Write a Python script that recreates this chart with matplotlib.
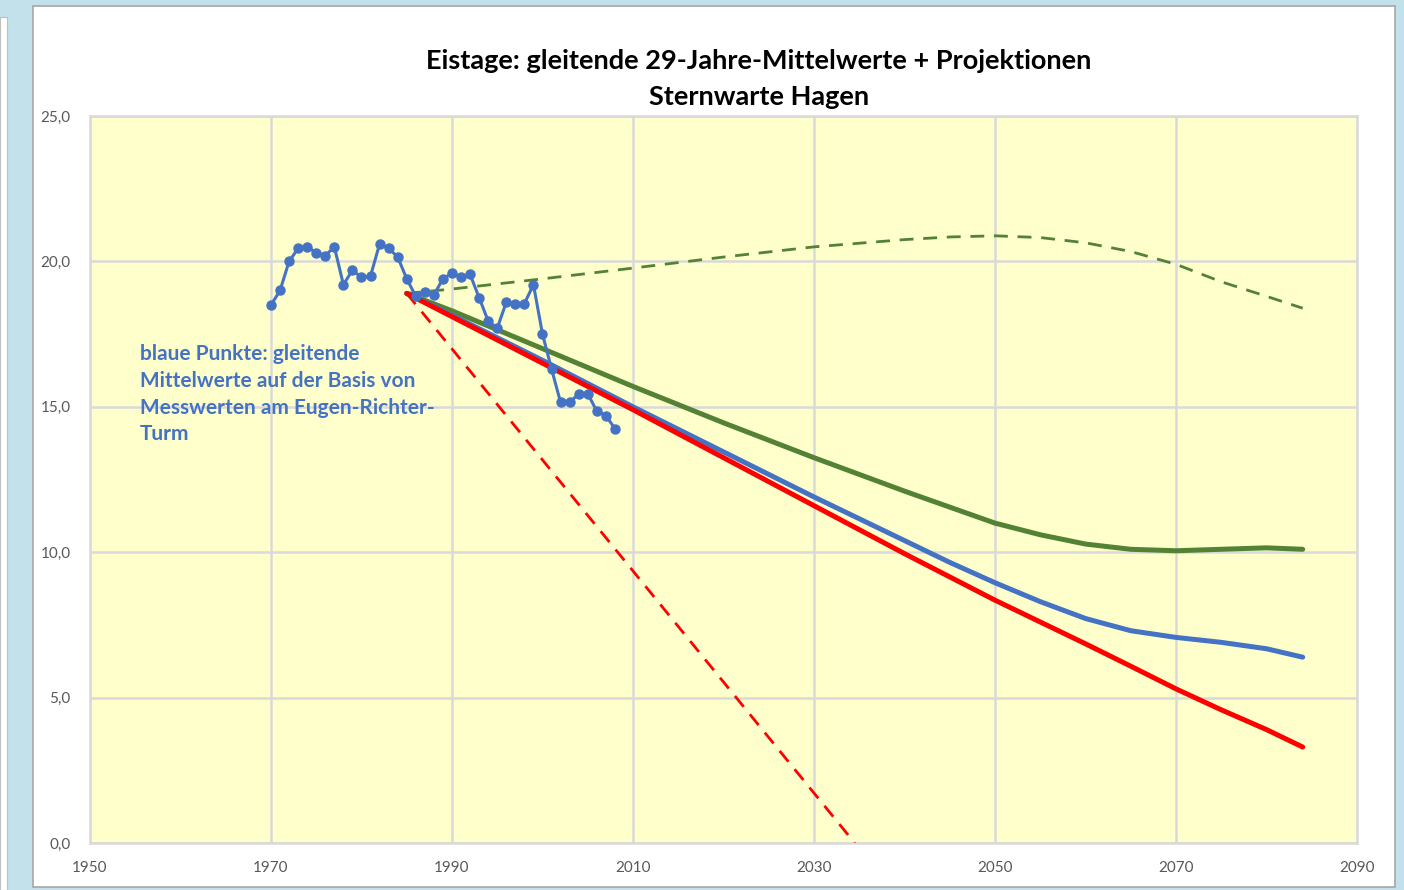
import matplotlib.pyplot as plt
from matplotlib.patches import Rectangle

# Gleitende 29-Jahre-Mittelwerte (blaue Punkte)
years_obs = list(range(1970, 2009))
eistage_obs = [18.5, 19.0, 20.0, 20.45, 20.5, 20.3, 20.2, 20.5, 19.2, 19.7,
               19.45, 19.5, 20.6, 20.45, 20.15, 19.4, 18.8, 18.95, 18.85, 19.4,
               19.6, 19.45, 19.55, 18.75, 17.95, 17.7, 18.6, 18.55, 18.55, 19.2,
               17.5, 16.3, 15.15, 15.15, 15.45, 15.45, 14.85, 14.7, 14.25]

# Projektionen
years_proj = [1985, 1990, 2000, 2010, 2020, 2030, 2040, 2045, 2050, 2055, 2060,
              2065, 2070, 2075, 2080, 2084]
proj_red = [18.9, 18.1, 16.5, 14.9, 13.25, 11.6, 9.95, 9.15, 8.35, 7.6, 6.85,
            6.08, 5.3, 4.58, 3.9, 3.3]
proj_blue = [18.9, 18.15, 16.6, 15.0, 13.45, 11.9, 10.4, 9.65, 8.95, 8.3, 7.72,
             7.3, 7.07, 6.9, 6.68, 6.39]
proj_green = [18.9, 18.3, 17.0, 15.7, 14.45, 13.25, 12.1, 11.55, 11.0, 10.6, 10.28,
              10.1, 10.05, 10.1, 10.15, 10.1]
proj_green_dash = [18.9, 19.05, 19.4, 19.77, 20.15, 20.5, 20.75, 20.84, 20.88, 20.82, 20.64,
                   20.34, 19.9, 19.3, 18.8, 18.39]
years_red_dash = [1985, 2034.5]
proj_red_dash = [18.9, 0.0]

plt.rcParams['font.family'] = ['Lato', 'DejaVu Sans']

fig = plt.figure(figsize=(14.04, 8.9), dpi=100)
fig.patch.set_facecolor('#c3e1ea')

# weisser Diagrammbereich
W, H = 1404, 890
fig.patches.append(Rectangle((33 / W, 1 - 887 / H), (1395 - 33) / W, (887 - 6) / H,
                             transform=fig.transFigure, facecolor='white',
                             edgecolor='#a6a6a6', linewidth=1.2, zorder=-2))
fig.patches.append(Rectangle((0, 0), 7 / W, 1 - 17 / H,
                             transform=fig.transFigure, facecolor='white',
                             edgecolor='#bfbfbf', linewidth=0.8, zorder=-2))

ax = fig.add_axes([90 / W, 1 - 843 / H, (1357 - 90) / W, (843 - 116) / H])
ax.set_zorder(1)
ax.set_facecolor('#ffffcc')

ax.plot(years_red_dash, proj_red_dash, color='#ff0000', lw=2, ls=(0, (5, 3.5)), zorder=3)
ax.plot(years_proj, proj_green_dash, color='#548235', lw=2, ls=(0, (5, 3.5)), zorder=3)
ax.plot(years_proj, proj_green, color='#548235', lw=3.6, zorder=3,
        solid_capstyle='round', solid_joinstyle='round')
ax.plot(years_proj, proj_blue, color='#4472c4', lw=3.6, zorder=4,
        solid_capstyle='round', solid_joinstyle='round')
ax.plot(years_proj, proj_red, color='#ff0000', lw=3.6, zorder=4,
        solid_capstyle='round', solid_joinstyle='round')
ax.plot(years_obs, eistage_obs, color='#4472c4', lw=2.2, marker='o', ms=6.5, zorder=5)

ax.set_xlim(1950, 2090)
ax.set_ylim(0, 25)
ax.set_xticks(range(1950, 2091, 20))
ax.set_yticks([0, 5, 10, 15, 20, 25])
ax.set_yticklabels([f"{v:.1f}".replace('.', ',') for v in [0, 5, 10, 15, 20, 25]])
ax.grid(True, color='#d9d9d9', lw=1.8)
ax.set_axisbelow(True)
for s in ax.spines.values():
    s.set_color('#d9d9d9')
    s.set_linewidth(1.8)
ax.tick_params(length=0, labelsize=11, labelcolor='#595959', pad=14)
ax.tick_params(axis='x', pad=13)

ax.text(1955.5, 17.15,
        "blaue Punkte: gleitende\nMittelwerte auf der Basis von\nMesswerten am Eugen-Richter-\nTurm",
        color='#4472c4', fontsize=15, fontweight='bold', va='top', ha='left',
        linespacing=1.42)

fig.text(759 / W, 1 - 61 / H, "Eistage: gleitende 29-Jahre-Mittelwerte + Projektionen",
         ha='center', va='center', fontsize=19.5, fontweight='bold', color='black')
fig.text(759 / W, 1 - 97 / H, "Sternwarte Hagen",
         ha='center', va='center', fontsize=19.5, fontweight='bold', color='black')

fig.savefig("out.png", dpi=100, facecolor=fig.get_facecolor())
